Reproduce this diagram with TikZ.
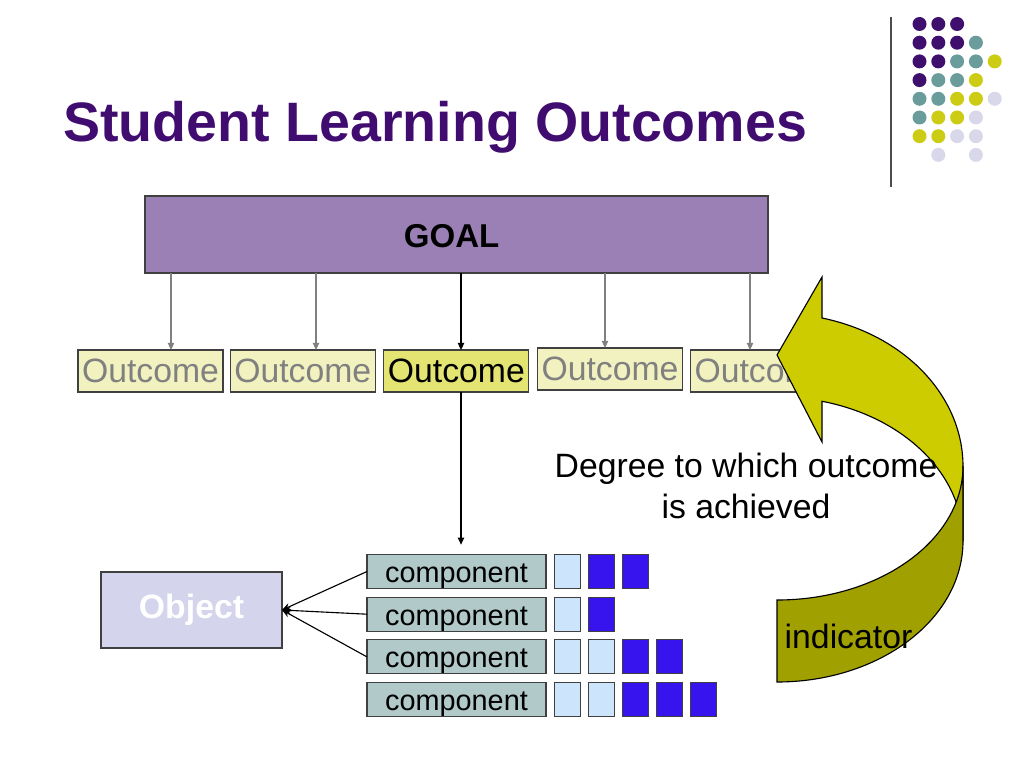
\documentclass[tikz,border=0pt]{standalone}
\usepackage{fontspec}
\setmainfont{Liberation Sans}
\usetikzlibrary{arrows.meta}

\definecolor{titlePurple}{RGB}{64,12,112}
\definecolor{dotPurple}{RGB}{63,15,110}
\definecolor{dotTeal}{RGB}{106,156,156}
\definecolor{dotYellow}{RGB}{204,204,20}
\definecolor{dotLavender}{RGB}{216,216,234}
\definecolor{goalFill}{RGB}{154,128,180}
\definecolor{outFill}{RGB}{242,242,192}
\definecolor{outFillHi}{RGB}{228,228,115}
\definecolor{compFill}{RGB}{178,201,201}
\definecolor{objFill}{RGB}{212,212,236}
\definecolor{sqLight}{RGB}{204,228,252}
\definecolor{sqDark}{RGB}{55,20,238}
\definecolor{arrowYellow}{RGB}{204,204,0}
\definecolor{arrowOlive}{RGB}{160,160,0}

\def\px{0.025cm}

\begin{document}
\begin{tikzpicture}[
  x=0.025cm, y=0.025cm,
  box/.style={
    draw=black!75, line width=0.8pt,
    inner sep=0pt, outer sep=0pt,
  },
  goalbox/.style={box, fill=goalFill, minimum width=623*\px, minimum height=77*\px,
    text height=19pt, text depth=0pt,
    font=\fontsize{23.5}{28}\selectfont\bfseries},
  outcome/.style={box, fill=outFill, text=gray, minimum width=145*\px, minimum height=42*\px,
    font=\fontsize{24}{28}\selectfont},
  component/.style={box, fill=compFill, minimum width=179*\px, minimum height=34*\px,
    text height=15.4pt, text depth=0pt,
    font=\fontsize{20.5}{24}\selectfont},
  objbox/.style={box, fill=objFill, text=white, minimum width=181*\px, minimum height=76*\px,
    font=\fontsize{24}{28}\selectfont\bfseries},
  sq/.style={box, minimum width=26*\px, minimum height=34*\px},
  sqL/.style={sq, fill=sqLight},
  sqD/.style={sq, fill=sqDark},
  dotP/.style={fill=dotPurple},
  dotT/.style={fill=dotTeal},
  dotY/.style={fill=dotYellow},
  dotL/.style={fill=dotLavender},
  dotN/.style={fill=none},
  plain/.style={inner sep=0pt, font=\fontsize{24}{28.5}\selectfont},
  goalarrow/.style={-{Triangle[length=5pt,width=4.5pt]}, gray, line width=0.8pt},
  objarrow/.style={-{Stealth[length=6pt,width=5pt]}, line width=0.8pt},
  bigarrow/.style={draw=black, line width=0.8pt},
]

  \useasboundingbox (0,0) rectangle (1024,-768);

  \node [anchor=base west, inner sep=0pt, text=titlePurple,
    font=\fontsize{39.5}{46}\selectfont\bfseries] (title) at (63,-142) {Student Learning Outcomes};

  \draw [black!70, line width=1pt] (891,-17) -- (891,-187);
  \foreach \row [count=\r from 0] in {{P,P,P},{P,P,P,T},{P,P,T,T,Y},{P,T,T,Y},{T,T,Y,Y,L},{T,Y,Y,L},{Y,Y,L,L},{N,L,N,L}}
    \foreach \k [count=\c from 0] in \row
      \fill [dot\k] ({919.5+18.8*\c},{-24-18.7*\r}) circle [radius=7];

  \node [goalbox] (goal) at (456.5,-234.5) {GOAL\hspace*{7pt}};

  \node [outcome] (o1) at (150.5,-371) {Outcome};
  \node [outcome] (o2) at (302.8,-371) {Outcome};
  \node [outcome, fill=outFillHi, text=black] (o3) at (456.4,-371) {Outcome};
  \node [outcome] (o4) at (610,-369) {Outcome};
  \node [outcome] (o5) at (763,-371) {Outcome};

  \foreach \x/\o in {171/o1,316/o2,605/o4,750/o5}
    \draw [goalarrow] (\x,0 |- goal.south) -- (\x,0 |- \o.north);
  \draw [goalarrow, black] (461,0 |- goal.south) -- (461,0 |- o3.north);

  \foreach \i/\y in {1/571.5,2/614.2,3/656.9,4/699.6}
    \node [component] (c\i) at (456.5,-\y) {component};
  \draw [goalarrow, black, shorten >=7pt] (461,0 |- o3.south) -- (461,0 |- c1.north);

  \foreach \row [count=\i] in {{L,D,D},{L,D},{L,L,D,D},{L,L,D,D,D}}
    \foreach \k [count=\j] in \row
      \node [sq\k] (s\i\j) at ({533.5+34*\j},{-528.8-42.7*\i}) {};

  \node [objbox] (obj) at (191.5,-610) {Object};
  \foreach \i in {1,2,3}
    \draw [objarrow] (c\i.west) -- (obj.east);

  \filldraw [bigarrow, fill=arrowYellow] (822,-318)
    arc [start angle=76, end angle=0, x radius=186, y radius=153] -- (963,-541)
    arc [start angle=0, end angle=76, x radius=186, y radius=144]
    -- (822,-442) -- (777,-355) -- (822,-277) -- cycle;
  \filldraw [bigarrow, fill=arrowOlive] (777,-600)
    arc [start angle=270, end angle=360, x radius=186, y radius=134] -- (963,-541)
    arc [start angle=0, end angle=-90, x radius=186, y radius=141] -- cycle;

  \node [plain, align=center, anchor=base] (degree) at (746,-518) {Degree to which outcome\\is achieved};
  \node [plain, anchor=base] (indicator) at (848.5,-648) {indicator};

\end{tikzpicture}
\end{document}
